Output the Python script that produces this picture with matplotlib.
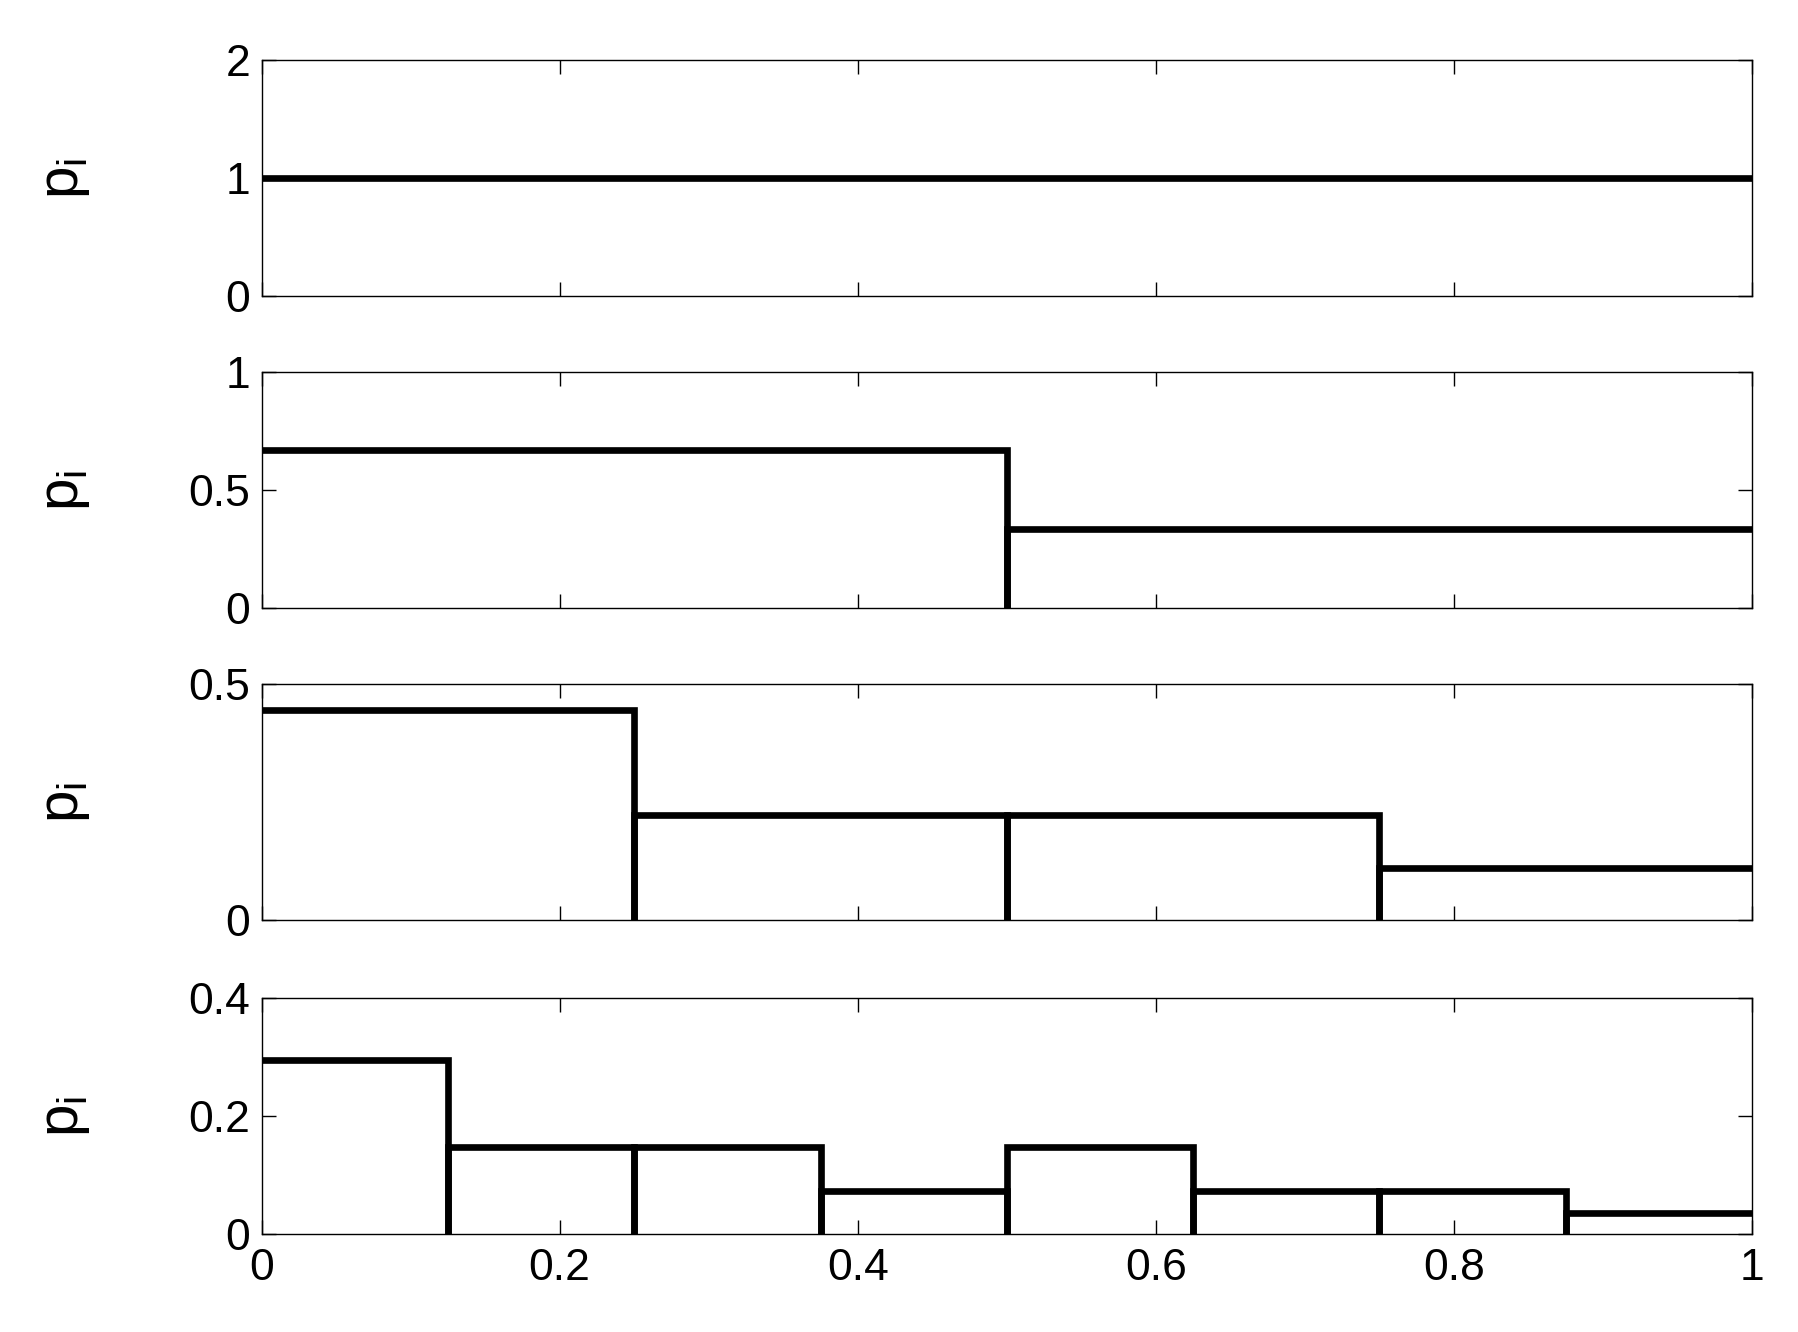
import matplotlib
matplotlib.use('Agg')
import matplotlib.pyplot as plt

plt.rcParams['font.family'] = ['Liberation Sans', 'DejaVu Sans']
plt.rcParams['mathtext.fontset'] = 'custom'
plt.rcParams['mathtext.rm'] = 'Liberation Sans'
plt.rcParams['mathtext.it'] = 'Liberation Sans'

# bin edges and bar heights for each level
edges1 = [0, 1]
p1 = [1.0]
edges2 = [0, 0.5, 1]
p2 = [0.667, 0.333]
edges3 = [0, 0.25, 0.5, 0.75, 1]
p3 = [0.444, 0.222, 0.222, 0.111]
edges4 = [0, 0.125, 0.25, 0.375, 0.5, 0.625, 0.75, 0.875, 1]
p4 = [0.296, 0.148, 0.148, 0.074, 0.148, 0.074, 0.074, 0.037]

ylims = [(0, 2), (0, 1), (0, 0.5), (0, 0.4)]
yticks = [[0, 1, 2], [0, 0.5, 1], [0, 0.5], [0, 0.2, 0.4]]
yticklabels = [['0', '1', '2'], ['0', '0.5', '1'], ['0', '0.5'], ['0', '0.2', '0.4']]
xticks = [0, 0.2, 0.4, 0.6, 0.8, 1]
xticklabels = ['0', '0.2', '0.4', '0.6', '0.8', '1']

fig = plt.figure(figsize=(17.99, 13.32), dpi=100)

left, width, height = 0.1454, 0.8285, 0.1774
bottoms = [0.7778, 0.5435, 0.3092, 0.0732]

for k, (edges, p) in enumerate([(edges1, p1), (edges2, p2), (edges3, p3), (edges4, p4)]):
    ax = fig.add_axes([left, bottoms[k], width, height])
    n = len(p)
    # bar outlines, without the outer sides and the base
    for i in range(n):
        xs = []
        ys = []
        if i > 0:
            xs.append(edges[i]); ys.append(0)
        xs += [edges[i], edges[i + 1]]
        ys += [p[i], p[i]]
        if i < n - 1:
            xs.append(edges[i + 1]); ys.append(0)
        ax.plot(xs, ys, color='black', lw=4.8, solid_joinstyle='miter',
                solid_capstyle='butt')
    ax.set_xlim(0, 1)
    ax.set_ylim(*ylims[k])
    ax.set_xticks(xticks)
    ax.set_yticks(yticks[k])
    ax.set_yticklabels(yticklabels[k])
    if k == 3:
        ax.set_xticklabels(xticklabels)
    else:
        ax.set_xticklabels([])
    ax.tick_params(direction='in', length=10, width=1.0, labelsize=32,
                   top=True, right=True, pad=8)
    ax.tick_params(axis='x', pad=10)
    for s in ax.spines.values():
        s.set_linewidth(1.0)
    ax.set_ylabel(r'$\mathregular{p_i}$', fontsize=42)
    ax.yaxis.set_label_coords(-0.114, 0.5)

fig.savefig('out.png', dpi=100)
